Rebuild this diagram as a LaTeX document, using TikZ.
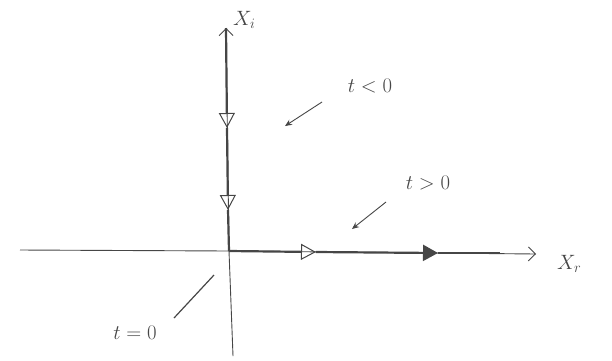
\documentclass[tikz,border=0pt]{standalone}
\usepackage{xcolor}
\usepackage{tikz}
\usetikzlibrary{arrows.meta,positioning}
\definecolor{pencil}{RGB}{70, 70, 70}

\begin{document}
\begin{tikzpicture}[x=1pt, y=-1pt,
  axis/.style={pencil, line width=0.9pt},
  flow/.style={pencil, line width=2.2pt},
  openhead/.style={-{Triangle[open, length=15pt, width=16pt, line width=1pt]}},
  fullhead/.style={-{Triangle[length=15pt, width=16pt]}},
  pointer/.style={pencil, line width=0.9pt, -{Stealth[length=7pt, width=6pt]}},
  lbl/.style={pencil, font=\huge, inner sep=1pt}]
\useasboundingbox (0,0) rectangle (612,360);

% Axes
\coordinate (o) at (229,251);
\coordinate (itop) at (226,28);
\coordinate (ibot) at (233,356);
\coordinate (rleft) at (20,250);
\coordinate (rend) at (536,254);
\draw[axis] (o) -- (ibot);
\draw[axis] (rleft) -- (o);
\draw[axis, -{Straight Barb[length=7pt, width=14pt]}] (o) -- (rend);
\draw[axis, -{Straight Barb[length=7pt, width=14pt]}] (o) -- (itop);
\node[lbl, anchor=west] (xi) at (232,20) {$X_i$};
\node[lbl, anchor=west] (xr) at (556,264) {$X_r$};

% Trajectory, t<0 then t>0
\coordinate (v1) at (227,128);
\coordinate (v2) at (228,210);
\coordinate (h1) at (316,252);
\coordinate (h2) at (438,253);
\coordinate (h3) at (500,253);
\draw[flow, openhead] (itop) -- (v1);
\draw[flow, openhead] (v1) -- (v2);
\draw[flow] (v2) -- (o);
\draw[flow, openhead] (o) -- (h1);
\draw[flow, fullhead] (h1) -- (h2);
\draw[flow] (h2) -- (h3);

% Time labels
\node[lbl] (tneg) at (370,86) {$t<0$};
\node[lbl] (tpos) at (428,183) {$t>0$};
\node[lbl] (tzero) at (135,333) {$t=0$};
\coordinate (qneg) at (322,102);
\coordinate (qpos) at (386,202);
\coordinate (qzero) at (174,318);
\coordinate (pneg) at (285,126);
\coordinate (ppos) at (352,229);
\coordinate (pzero) at (214,275);
\draw[pointer] (qneg) -- (pneg);
\draw[pointer] (qpos) -- (ppos);
\draw[pencil, line width=1.2pt] (qzero) -- (pzero);
\end{tikzpicture}
\end{document}
